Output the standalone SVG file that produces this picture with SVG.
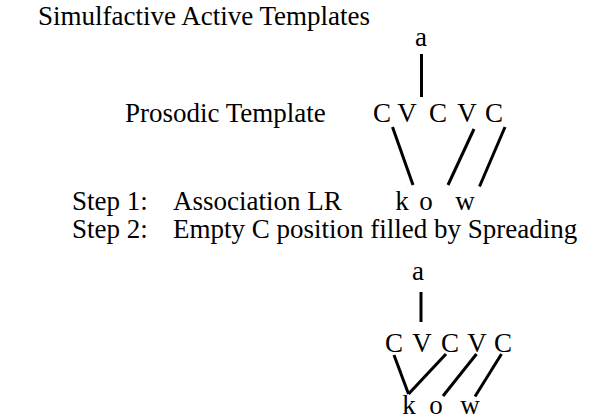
<svg xmlns="http://www.w3.org/2000/svg" width="616" height="419" viewBox="0 0 616 419">
<style>
text{font-family:"Liberation Serif","Times New Roman",serif;font-size:27px;fill:#000}
.c{text-anchor:middle}
line{stroke:#000;stroke-width:3;stroke-linecap:butt}
</style>
<rect width="616" height="419" fill="#fff"/>
<g id="title"><text x="38" y="25">Simulfactive Active Templates</text></g>
<g id="tier1-label"><text x="125" y="122">Prosodic Template</text></g>
<g id="a1"><text class="c" x="421" y="46">a</text></g>
<g id="cv1">
<text class="c" x="382" y="122">C</text>
<text class="c" x="407" y="122">V</text>
<text class="c" x="438" y="122">C</text>
<text class="c" x="467" y="122">V</text>
<text class="c" x="494" y="122">C</text>
</g>
<g id="step1"><text x="72" y="210">Step 1:</text><text x="173" y="210">Association LR</text></g>
<g id="kow1">
<text class="c" x="402" y="210">k</text>
<text class="c" x="426" y="210">o</text>
<text class="c" x="465" y="210">w</text>
</g>
<g id="step2"><text x="72" y="238">Step 2:</text><text x="173" y="238">Empty C position filled by Spreading</text></g>
<g id="a2"><text class="c" x="418" y="280">a</text></g>
<g id="cv2">
<text class="c" x="394" y="352">C</text>
<text class="c" x="422" y="352">V</text>
<text class="c" x="450" y="352">C</text>
<text class="c" x="477" y="352">V</text>
<text class="c" x="503" y="352">C</text>
</g>
<g id="kow2">
<text class="c" x="409" y="414">k</text>
<text class="c" x="436" y="414">o</text>
<text class="c" x="470" y="414">w</text>
</g>
<g id="connectors">
<line x1="421.5" y1="54" x2="421.5" y2="97"/>
<line x1="392.5" y1="127" x2="413" y2="185"/>
<line x1="474" y1="129" x2="448" y2="185"/>
<line x1="505" y1="127" x2="479.5" y2="186.5"/>
<line x1="421" y1="292" x2="421" y2="322"/>
<line x1="394" y1="355" x2="408.5" y2="394"/>
<line x1="408.5" y1="394" x2="446" y2="354"/>
<line x1="476.5" y1="354" x2="443" y2="396"/>
<line x1="501.5" y1="354" x2="475" y2="396.5"/>
</g>
</svg>
